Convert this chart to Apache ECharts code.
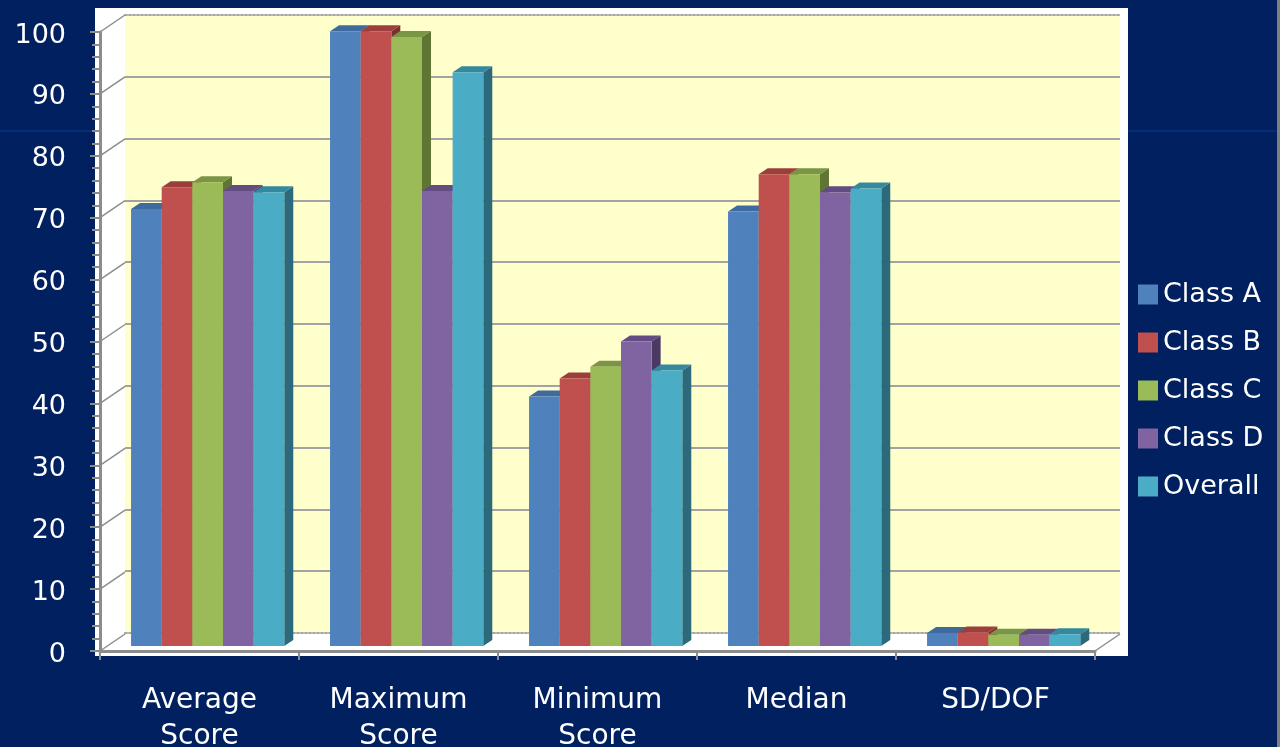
<!DOCTYPE html>
<html>
<head>
<meta charset="utf-8">
<script src="https://cdn.jsdelivr.net/npm/echarts@6/dist/echarts.min.js"></script>
<style>
html,body{margin:0;padding:0;background:#002060;}
#chart{width:1280px;height:747px;}
</style>
</head>
<body>
<div id="chart"></div>
<script>
// ---- data ----
const categories = ['Average\nScore', 'Maximum\nScore', 'Minimum\nScore', 'Median', 'SD/DOF'];
const seriesNames = ['Class A', 'Class B', 'Class C', 'Class D', 'Overall'];
const classA  = [70.6, 99.3, 40.3, 70.2, 2.1];
const classB  = [74.1, 99.3, 43.2, 76.2, 2.2];
const classC  = [74.9, 98.4, 45.1, 76.2, 1.8];
const classD  = [73.5, 73.5, 49.2, 73.3, 1.8];
const overall = [73.3, 92.7, 44.5, 73.9, 1.9];
const yTicks  = [0, 10, 20, 30, 40, 50, 60, 70, 80, 90, 100];

const seriesValues = [classA, classB, classC, classD, overall];
const colors = ['#4F81BD', '#C0504D', '#9BBB59', '#8064A2', '#4BACC6'];
const topColors = ['#3E6A9E', '#9C3F3C', '#7A9644', '#634C82', '#34899F'];
const sideColors = ['#2F5481', '#7A302E', '#5F7534', '#4B3963', '#2C6A7B'];

const FONT = 'DejaVu Sans';
const DX = 9, DY = 6, LIFT = 5;

function barRenderer(k) {
  return function (params, api) {
    const ci = api.value(0), v = api.value(1);
    const base = api.coord([ci, 0]);
    const top = api.coord([ci, v]);
    const bw = api.size([1, 0])[0];
    const w = bw * 0.154;
    const x0 = base[0] - bw / 2 + bw * 0.156 + k * w;
    const yb = base[1] - LIFT, yt = top[1] - LIFT;
    const x1 = x0 + w;
    return {
      type: 'group',
      children: [
        { type: 'polygon', shape: { points: [[x1, yt], [x1 + DX, yt - DY], [x1 + DX, yb - DY], [x1, yb]] },
          style: { fill: sideColors[k] } },
        { type: 'polygon', shape: { points: [[x0, yt], [x1, yt], [x1 + DX, yt - DY], [x0 + DX, yt - DY]] },
          style: { fill: topColors[k] } },
        { type: 'rect', shape: { x: x0, y: yt, width: w, height: yb - yt },
          style: { fill: colors[k] } }
      ]
    };
  };
}

const barSeries = seriesNames.map((name, k) => ({
  name: name,
  type: 'custom',
  xAxisIndex: 2, yAxisIndex: 2,
  itemStyle: { color: colors[k] },
  renderItem: barRenderer(k),
  data: seriesValues[k].map((v, i) => [i, v]),
  z: 10
}));

const connectorSeries = {
  name: 'connectors',
  type: 'custom',
  xAxisIndex: 2, yAxisIndex: 2,
  silent: true,
  renderItem: function (params, api) {
    const v = api.value(1);
    const p = api.coord([0, v]);
    const cs = params.coordSys;
    const children = [
      { type: 'line', shape: { x1: cs.x, y1: p[1], x2: cs.x + 25, y2: p[1] - 17 },
        style: { stroke: '#8c8c8c', lineWidth: 1.5 } }
    ];
    if (v === 0) {
      children.push({ type: 'line', shape: { x1: cs.x + cs.width, y1: p[1], x2: cs.x + cs.width + 25, y2: p[1] - 17 },
        style: { stroke: '#8c8c8c', lineWidth: 1.5 } });
    }
    return { type: 'group', children: children };
  },
  data: yTicks.map(v => [0, v]),
  z: 5
};

const wallSplitColors = yTicks.map((v, i) => (i === 0 || i === yTicks.length - 1) ? 'rgba(0,0,0,0)' : '#a3a3a3');

const chart = echarts.init(document.getElementById('chart'));
chart.setOption({
  backgroundColor: '#002060',
  animation: false,
  textStyle: { fontFamily: FONT },
  graphic: [
    { type: 'line', shape: { x1: 0, y1: 131, x2: 1280, y2: 131 }, style: { stroke: '#0d3a8a', lineWidth: 1 }, z: -10 },
    { type: 'rect', shape: { x: 1277, y: 0, width: 3, height: 747 }, style: { fill: '#7f7f7f' }, z: -10 }
  ],
  grid: [
    { left: 95, top: 8, right: 152, bottom: 91, show: true, backgroundColor: '#ffffff', borderWidth: 0, containLabel: false, outerBoundsMode: 'none' },
    { left: 125, top: 15, right: 160, bottom: 114, show: true, backgroundColor: '#FFFFCC', borderWidth: 0, containLabel: false, outerBoundsMode: 'none' },
    { left: 100, top: 32, right: 185, bottom: 96, containLabel: false, outerBoundsMode: 'none' }
  ],
  xAxis: [
    { gridIndex: 0, type: 'value', show: false },
    { gridIndex: 1, type: 'value', position: 'bottom', axisLine: { show: true, lineStyle: { color: '#a6a6a6', type: 'dotted', width: 2 } },
      axisTick: { show: false }, axisLabel: { show: false }, splitLine: { show: false } },
    { gridIndex: 2, type: 'category', data: categories,
      axisLine: { show: true, lineStyle: { color: '#8c8c8c', width: 3 } },
      axisTick: { show: true, length: 9, lineStyle: { color: '#8c8c8c', width: 2 } },
      axisLabel: { color: '#ffffff', fontSize: 28, fontFamily: FONT, lineHeight: 36, margin: 32 },
      splitLine: { show: false } },
    { gridIndex: 1, type: 'value', position: 'top', axisLine: { show: true, lineStyle: { color: '#a6a6a6', type: 'dotted', width: 2 } },
      axisTick: { show: false }, axisLabel: { show: false }, splitLine: { show: false } }
  ],
  yAxis: [
    { gridIndex: 0, type: 'value', show: false },
    { gridIndex: 1, type: 'value', min: 0, max: 100, interval: 10,
      axisLine: { show: false }, axisTick: { show: false }, axisLabel: { show: false },
      splitLine: { show: true, lineStyle: { color: wallSplitColors, width: 2 } } },
    { gridIndex: 2, type: 'value', min: 0, max: 100, interval: 10,
      axisLine: { show: true, lineStyle: { color: '#8c8c8c', width: 3 } },
      axisTick: { show: true, length: 10, lineStyle: { color: '#8c8c8c', width: 2 } },
      minorTick: { show: true, splitNumber: 5, length: 8, lineStyle: { color: '#8c8c8c', width: 2 } },
      axisLabel: { margin: 34, formatter: '{v|{value}}',
        rich: { v: { color: '#ffffff', fontSize: 27, fontFamily: FONT, lineHeight: 27, padding: [7, 0, 0, 0] } } },
      splitLine: { show: false } }
  ],
  legend: {
    data: seriesNames,
    orient: 'vertical',
    left: 1133, top: 276,
    icon: 'rect',
    itemWidth: 20, itemHeight: 20,
    itemGap: 21,
    textStyle: { color: '#ffffff', fontSize: 27, fontFamily: FONT, lineHeight: 27, padding: [0, 0, 0, 0] }
  },
  series: [connectorSeries].concat(barSeries)
});
</script>
</body>
</html>
